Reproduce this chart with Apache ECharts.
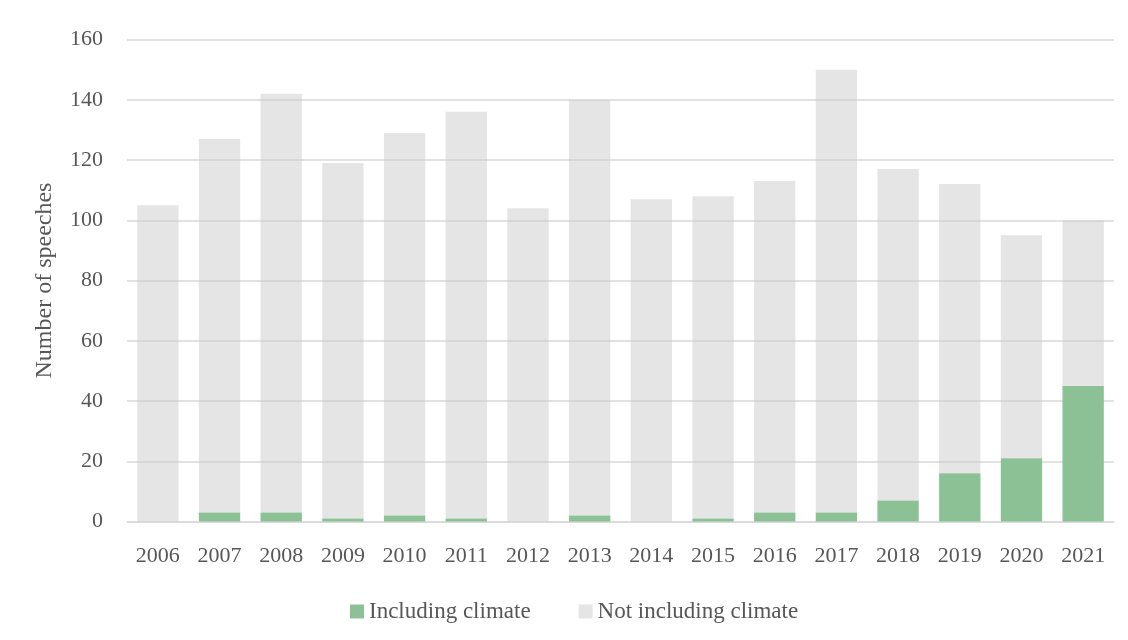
<!DOCTYPE html>
<html>
<head>
<meta charset="utf-8">
<script src="https://cdn.jsdelivr.net/npm/echarts@6/dist/echarts.min.js"></script>
<style>html,body{margin:0;padding:0;background:#fff;}#c{width:1128px;height:640px;}</style>
</head>
<body>
<div id="c"></div>
<script>
const years = ['2006','2007','2008','2009','2010','2011','2012','2013','2014','2015','2016','2017','2018','2019','2020','2021'];
const includingClimate = [0, 3, 3, 1, 2, 1, 0, 2, 0, 1, 3, 3, 7, 16, 21, 45];
const notIncludingClimate = [105, 124, 139, 118, 127, 135, 104, 138, 107, 107, 110, 147, 110, 96, 74, 55];
const yTicks = { min: 0, max: 160, interval: 20 };

const FONT = 'Liberation Serif';
const TXT = '#575757';
const chart = echarts.init(document.getElementById('c'), null, { renderer: 'canvas' });
chart.setOption({
  animation: false,
  textStyle: { fontFamily: FONT },
  grid: { left: 127, right: 14, top: 39.5, bottom: 118.5 },
  legend: {
    bottom: 12,
    left: 345,
    itemWidth: 14,
    itemHeight: 14,
    itemGap: 48,
    icon: 'rect',
    textStyle: { fontFamily: FONT, fontSize: 23, color: TXT },
    data: ['Including climate', 'Not including climate']
  },
  xAxis: {
    type: 'category',
    data: years,
    axisLine: { show: true, lineStyle: { color: '#d9d9d9', width: 1.5 } },
    axisTick: { show: false },
    axisLabel: { fontFamily: FONT, fontSize: 22, color: TXT, margin: 24 }
  },
  yAxis: {
    type: 'value',
    min: yTicks.min, max: yTicks.max, interval: yTicks.interval,
    name: 'Number of speeches',
    nameLocation: 'middle',
    nameGap: 70,
    nameTextStyle: { fontFamily: FONT, fontSize: 24, color: TXT },
    axisLine: { show: false },
    axisTick: { show: false },
    axisLabel: { fontFamily: FONT, fontSize: 22, color: TXT, margin: 24 },
    splitLine: { lineStyle: { color: '#d8d8d8', width: 1.5 } }
  },
  series: [
    {
      name: 'Including climate',
      type: 'bar',
      stack: 'total',
      barCategoryGap: '33%',
      itemStyle: { color: '#8cc196' },
      data: includingClimate
    },
    {
      name: 'Not including climate',
      type: 'bar',
      stack: 'total',
      barCategoryGap: '33%',
      itemStyle: { color: 'rgba(200,200,200,0.48)' },
      data: notIncludingClimate
    }
  ]
});
</script>
</body>
</html>
